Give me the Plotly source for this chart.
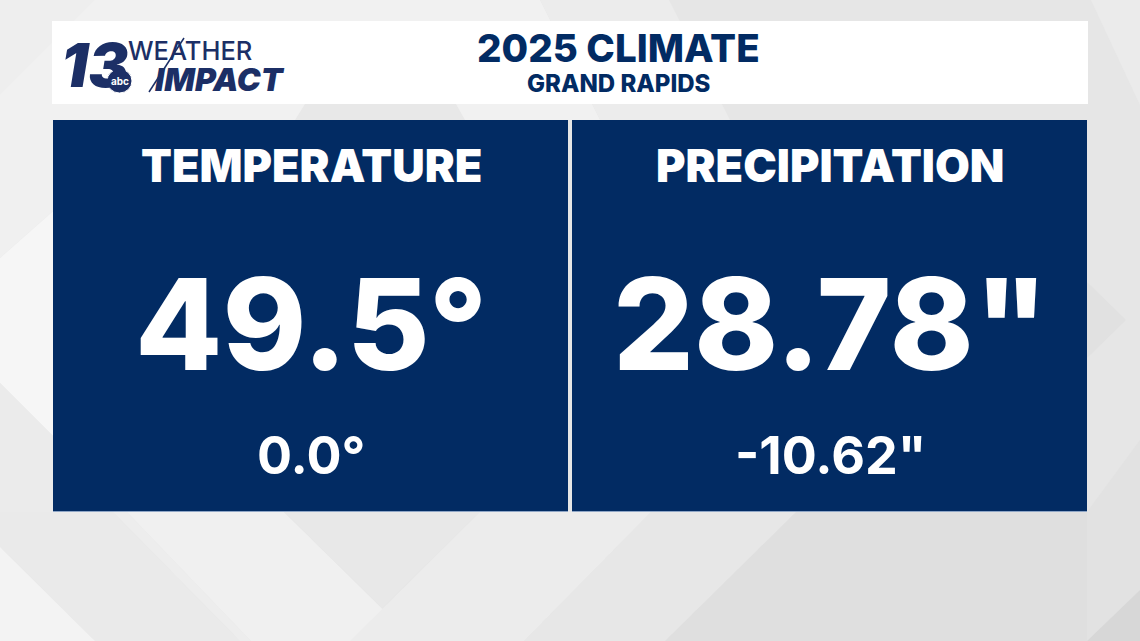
#!/usr/bin/env python

import plotly.graph_objects as go

title = "2025 CLIMATE"
subtitle = "GRAND RAPIDS"
panel_names = ["TEMPERATURE", "PRECIPITATION"]
panel_values = ["49.5°", "28.78\""]
panel_departures = ["0.0°", "-10.62\""]

NAVY = "#022b63"
LOGO = "#1c2f66"
FONT = "Inter"

W = 1140
H = 641


def poly(points, color):
    path = "M " + " L ".join("%s,%s" % p for p in points) + " Z"
    return dict(type="path", path=path, fillcolor=color, line=dict(width=0), layer="below")


def label(x, y, text, size, color=NAVY, weight=800, family=FONT):
    return dict(x=x, y=y, text=text, showarrow=False, xanchor="center", yanchor="middle",
                font=dict(family=family, size=size, color=color, weight=weight))


shapes = [
    # background facets, top
    poly([(0, 0), (1140, 0), (1140, 641), (0, 641)], "#e6e6e6"),
    poly([(0, 0), (540, 0), (600, 120), (0, 120)], "#eeeeee"),
    poly([(0, 95), (95, 0), (540, 0), (600, 120), (0, 120)], "#f1f1f1"),
    poly([(540, 0), (669, 0), (730, 120), (600, 120)], "#ececec"),
    poly([(1091, 0), (1140, 0), (1140, 105)], "#ebebeb"),
    poly([(305, 104), (456, 104), (465, 120), (295, 120)], "#e8e8e8"),
    # left and right margins
    poly([(0, 120), (60, 120), (60, 205), (0, 258)], "#f0f0f0"),
    poly([(0, 258), (60, 205), (60, 443), (0, 383)], "#f6f6f6"),
    poly([(0, 383), (60, 443), (60, 512), (0, 512)], "#ebebeb"),
    poly([(1087, 282), (1126, 320), (1087, 358)], "#e1e1e1"),
    # bottom
    poly([(0, 512), (113, 512), (240, 641), (95, 641), (0, 547)], "#eaeaea"),
    poly([(0, 547), (95, 641), (0, 641)], "#f3f3f3"),
    poly([(113, 512), (127, 512), (251, 641), (240, 641)], "#ededed"),
    poly([(127, 512), (284, 512), (415, 641), (251, 641)], "#f0f0f0"),
    poly([(284, 512), (480, 512), (382, 608)], "#e8e8e8"),
    poly([(480, 512), (651, 512), (524, 641), (350, 641)], "#ececec"),
    poly([(651, 512), (796, 512), (665, 641), (524, 641)], "#e7e7e7"),
    poly([(796, 512), (1087, 512), (1087, 641), (665, 641)], "#dfdfdf"),
    poly([(1087, 512), (1140, 440), (1140, 590), (1087, 641)], "#e2e2e2"),
    poly([(1140, 590), (1140, 641), (1087, 641)], "#d7d7d7"),
    # header and panels
    dict(type="rect", x0=52, x1=1088, y0=21, y1=104, fillcolor="white", line=dict(width=0), layer="below"),
    dict(type="rect", x0=53, x1=568, y0=120, y1=512, fillcolor=NAVY, line=dict(width=0), layer="below"),
    dict(type="rect", x0=572, x1=1087, y0=120, y1=512, fillcolor=NAVY, line=dict(width=0), layer="below"),
    dict(type="rect", x0=53, x1=568, y0=511, y1=512, fillcolor="#8fa6c6", line=dict(width=0), layer="below"),
    dict(type="rect", x0=572, x1=1087, y0=511, y1=512, fillcolor="#8fa6c6", line=dict(width=0), layer="below"),
    # logo slash and abc bug
    dict(type="line", x0=149, x1=184, y0=92, y1=38, line=dict(color=LOGO, width=1.5)),
    dict(type="circle", x0=107, x1=132, y0=69, y1=93, fillcolor=LOGO, line=dict(width=1, color="white")),
]

annotations = [
    label(618, 48, title, 38.5),
    label(618, 83, subtitle, 24),
    # logo text
    label(95, 65, "<i>13</i>", 60, color=LOGO, weight=900),
    label(190, 50, "WEATHER", 25.5, color=LOGO, weight=500),
    label(220, 79, "<i>IMPACT</i>", 32, color=LOGO, weight=900),
    label(120, 81, "abc", 10, color="white", weight=700),
]
for i, cx in enumerate([311, 830]):
    annotations.append(label(cx, 165, panel_names[i], 45, color="white", weight=900))
    annotations.append(label(cx, 324, panel_values[i], 127, color="white", weight=800))
    annotations.append(label(cx, 455, panel_departures[i], 52, color="white", weight=700))

fig = go.Figure()
fig.update_layout(
    width=W, height=H, margin=dict(l=0, r=0, t=0, b=0),
    paper_bgcolor="#e6e6e6", plot_bgcolor="#e6e6e6", showlegend=False,
    xaxis=dict(range=[0, W], visible=False, fixedrange=True),
    yaxis=dict(range=[H, 0], visible=False, fixedrange=True),
    shapes=shapes, annotations=annotations,
)
fig.write_html("out.html", config=dict(displayModeBar=False),
               post_script="document.body.style.margin='0';document.body.style.overflow='hidden';")
